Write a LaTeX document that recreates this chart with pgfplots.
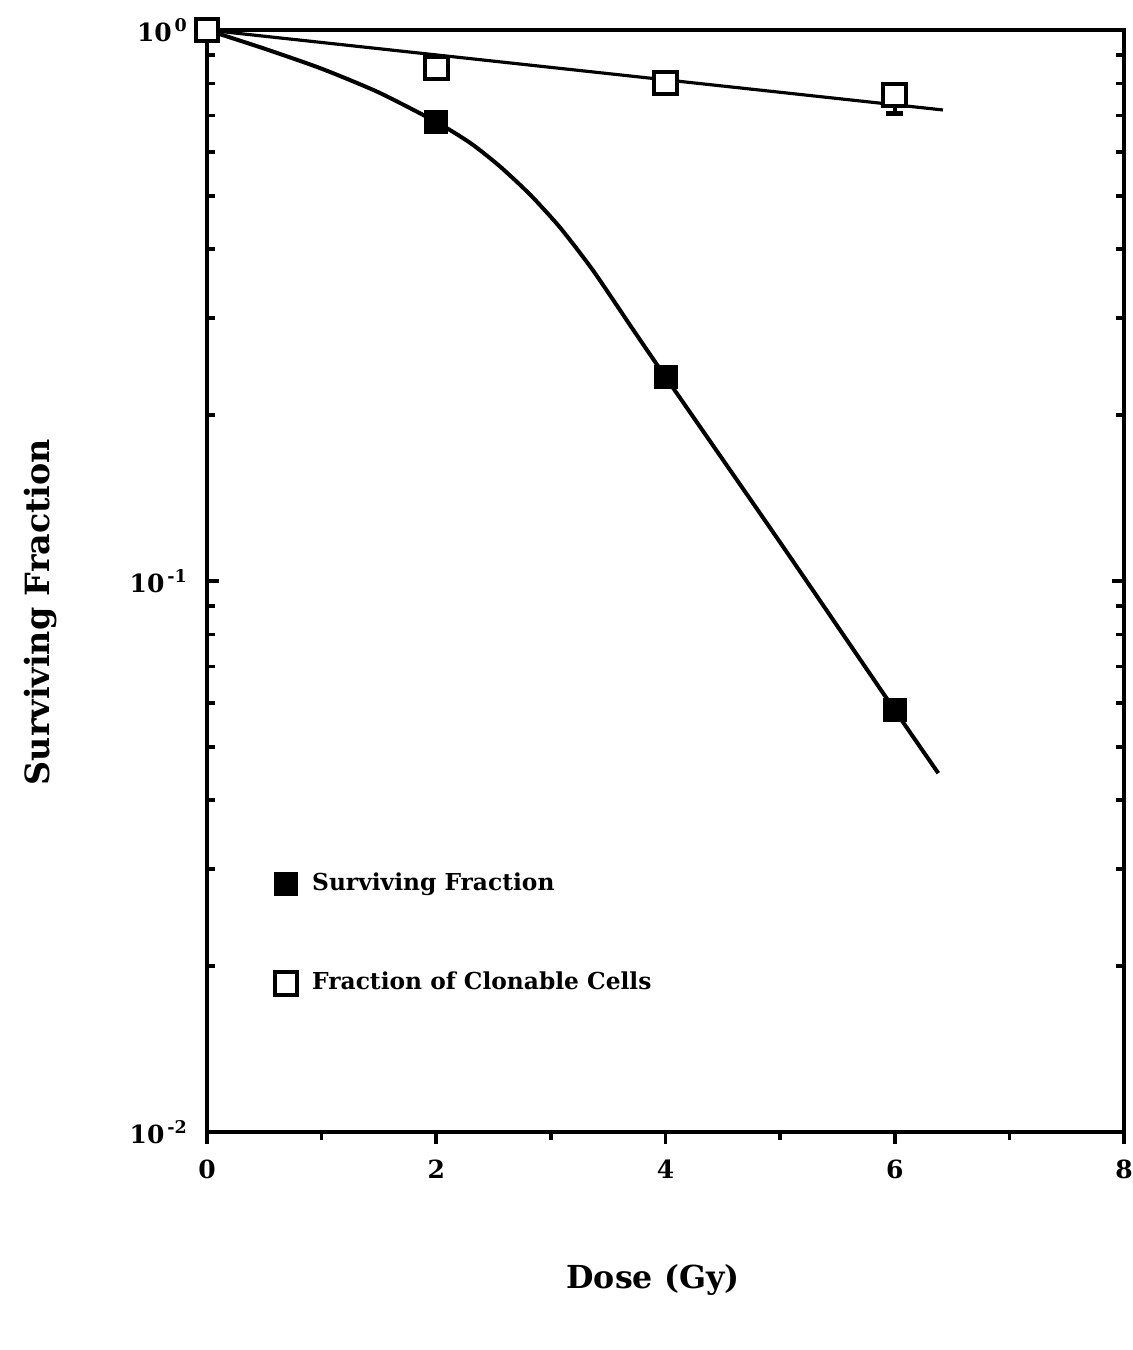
\documentclass[border=0pt]{standalone}
\usepackage{fontspec}
\setmainfont{DejaVu Serif}
\usepackage{pgfplots}
\pgfplotsset{compat=1.18}

\begin{document}
\begin{tikzpicture}
% fixed page frame
\path[use as bounding box] (0,0) rectangle (339.9pt,-405pt);
\begin{axis}[
  at={(62.1pt,-339.6pt)}, anchor=south west,
  width=275.1pt, height=330.6pt, scale only axis,
  xmin=0, xmax=8, ymin=0.01, ymax=1,
  ymode=log,
  axis line style={line width=1.4pt},
  xtick={0,2,4,6,8},
  xticklabels={0,2,4,6,8},
  minor xtick={1,3,5,7},
  xtick pos=left, xtick align=outside,
  ytick={0.01,0.1,1},
  yticklabels={10\textsuperscript{\,-2},10\textsuperscript{\,-1},10\textsuperscript{\,0}},
  ytick pos=both, ytick align=inside,
  major tick length=3.6pt, minor tick length=2.4pt,
  every tick/.style={black, line width=1.1pt},
  ticklabel style={font=\bfseries\fontsize{7.5}{9}\selectfont},
  xticklabel style={yshift=-1.3pt},
  yticklabel style={xshift=-2pt},
  legend style={draw=none, fill=none, at={(0.062,0.248)}, anchor=north west,
    font=\bfseries\fontsize{7}{8}\selectfont, row sep=19pt,
    legend cell align=left,
    nodes={inner xsep=4.5pt}},
  legend image code/.code={\draw plot coordinates {(0.15cm,0cm)};},
  clip=false,
]
% Surviving fraction: fitted curve and measured points
\addplot[black, line width=1.2pt, smooth, tension=0.4, forget plot] coordinates {
  (0,1) (0.497,0.9256) (0.995,0.8515) (1.492,0.7716) (2,0.681)
  (2.304,0.6223) (2.557,0.5652) (2.818,0.5028) (3.080,0.4381)
  (3.368,0.3661) (3.717,0.2860) (4,0.2346)
  (5,0.1175) (6,0.0583) (6.38,0.0448)
};
% Fraction of clonable cells: straight fit
\addplot[black, line width=0.95pt, forget plot] coordinates {
  (0,1) (6.42,0.716)
};
\addplot[only marks, mark=square*, mark size=3.4pt, black, forget plot] coordinates {
  (2,0.681) (4,0.2346) (6,0.0583)
};
\addplot[only marks, mark=square*, mark size=3.4pt, draw=black, fill=white,
  mark options={line width=1.2pt, fill=white}, forget plot,
  error bars/.cd, y dir=minus, y explicit,
  error bar style={line width=1.2pt}, error mark options={rotate=90, mark size=2.5pt, line width=1.5pt}]
  coordinates {
  (0,1) (2,0.853) (4,0.801) (6,0.762) -= (0,0.055)
};
\addlegendimage{only marks, mark=square*, mark size=3.4pt, black}
\addlegendentry{Surviving Fraction}
\addlegendimage{only marks, mark=square*, mark size=3.4pt, draw=black, fill=white, mark options={line width=1.2pt, fill=white}}
\addlegendentry{Fraction of Clonable Cells}
\end{axis}
\node[font=\bfseries\fontsize{9.5}{11}\selectfont] at (195.9pt,-384pt) {Dose (Gy)};
\node[font=\bfseries\fontsize{10}{12}\selectfont, rotate=90] at (12.3pt,-183.6pt) {Surviving Fraction};
\end{tikzpicture}
\end{document}
